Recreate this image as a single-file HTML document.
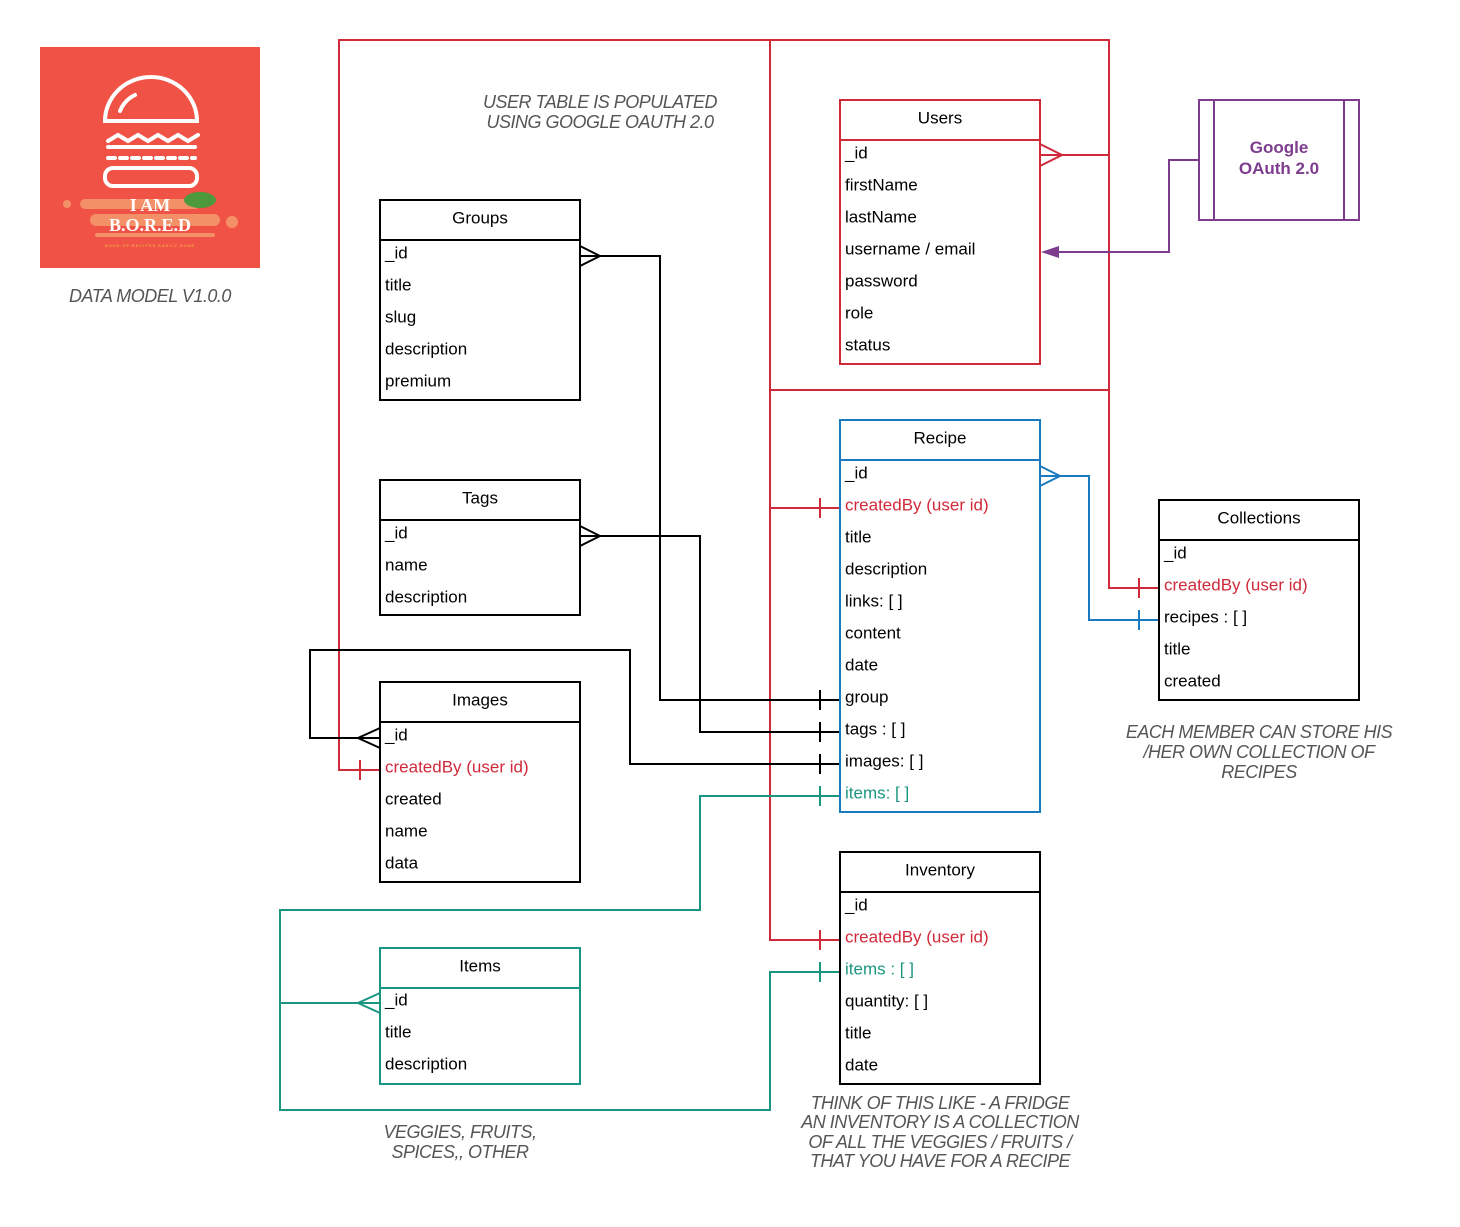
<!DOCTYPE html>
<html><head><meta charset="utf-8"><style>
body{margin:0;background:#fff;}
svg{display:block;font-family:"Liberation Sans",sans-serif;}
.t{font-size:17px;fill:#000;dominant-baseline:central;}
.h{font-size:17px;fill:#000;text-anchor:middle;dominant-baseline:central;}
.n{font-family:"Liberation Sans",sans-serif;font-style:italic;font-size:18px;fill:#555;text-anchor:middle;letter-spacing:-0.5px;}
</style></head><body>
<svg width="1460" height="1227" viewBox="0 0 1460 1227">
<!-- logo -->
<rect x="40" y="47" width="220" height="221" fill="#f05346"/>
<g fill="none" stroke="#fff" stroke-width="4" stroke-linecap="round">
<path d="M105,121 A46,44 0 0 1 197,121 Z"/>
<path d="M120,111 A30,30 0 0 1 135,95"/>
<path d="M108,141 l10,-6 10,6 10,-6 10,6 10,-6 10,6 10,-6 10,6 10,-6"/>
<line x1="108" y1="147" x2="195" y2="147"/>
<line x1="108" y1="158" x2="195" y2="158" stroke-dasharray="7,5"/>
<rect x="105" y="168" width="92" height="18" rx="8"/>
</g>
<g fill="#f5a070" opacity="0.8">
<rect x="80" y="199" width="120" height="10" rx="5"/><rect x="90" y="214" width="130" height="12" rx="6"/><rect x="95" y="233" width="120" height="4" rx="2"/>
<circle cx="67" cy="204" r="4"/><circle cx="232" cy="222" r="6"/></g>
<ellipse cx="200" cy="200" rx="16" ry="8" fill="#4c9a3c"/>
<text x="150" y="211" text-anchor="middle" font-family="Liberation Serif" font-weight="bold" font-size="18" fill="#fff">I AM</text>
<text x="150" y="231" text-anchor="middle" font-family="Liberation Serif" font-weight="bold" font-size="18" fill="#fff">B.O.R.E.D</text>
<text x="150" y="247" text-anchor="middle" font-size="4" fill="#f6c040" letter-spacing="1">BOOK.OF.RECIPES.EASILY.DONE</text>
<text class="n" x="150" y="302">DATA MODEL V1.0.0</text>
<text class="n" x="600" y="108">USER TABLE IS POPULATED</text>
<text class="n" x="600" y="128">USING GOOGLE OAUTH 2.0</text>
<text class="n" x="1259" y="738">EACH MEMBER CAN STORE HIS</text>
<text class="n" x="1259" y="758">/HER OWN COLLECTION OF</text>
<text class="n" x="1259" y="778">RECIPES</text>
<text class="n" x="460" y="1138">VEGGIES, FRUITS,</text>
<text class="n" x="460" y="1158">SPICES,, OTHER</text>
<text class="n" x="940" y="1109">THINK OF THIS LIKE - A FRIDGE</text>
<text class="n" x="940" y="1128">AN INVENTORY IS A COLLECTION</text>
<text class="n" x="940" y="1148">OF ALL THE VEGGIES / FRUITS /</text>
<text class="n" x="940" y="1167">THAT YOU HAVE FOR A RECIPE</text>

<!-- red connectors -->
<g fill="none" stroke="#d0293a" stroke-width="2">
<polyline points="380,770 339,770 339,40 1109,40 1109,588 1159,588"/>
<polyline points="770,40 770,940 840,940"/>
<line x1="770" y1="390" x2="1109" y2="390"/>
<line x1="770" y1="508" x2="840" y2="508"/>
<line x1="1040" y1="155" x2="1109" y2="155"/>
<polyline points="1040,144 1062,155 1040,166"/>
<line x1="360" y1="760" x2="360" y2="780"/>
<line x1="820" y1="498" x2="820" y2="518"/>
<line x1="820" y1="930" x2="820" y2="950"/>
<line x1="1139" y1="578" x2="1139" y2="598"/>
</g>
<!-- blue -->
<g fill="none" stroke="#1a7abf" stroke-width="2">
<polyline points="1040,476 1089,476 1089,620 1159,620"/>
<polyline points="1040,466 1060,476 1040,486"/>
<line x1="1139" y1="610" x2="1139" y2="630"/>
</g>
<!-- black -->
<g fill="none" stroke="#000" stroke-width="2">
<polyline points="580,256 660,256 660,700 840,700"/>
<polyline points="580,246 600,256 580,266"/>
<polyline points="580,536 700,536 700,732 840,732"/>
<polyline points="580,526 600,536 580,546"/>
<polyline points="380,738 310,738 310,650 630,650 630,764 840,764"/>
<polyline points="380,728 358,738 380,748"/>
<line x1="820" y1="690" x2="820" y2="710"/>
<line x1="820" y1="722" x2="820" y2="742"/>
<line x1="820" y1="754" x2="820" y2="774"/>
</g>
<!-- green -->
<g fill="none" stroke="#1a9680" stroke-width="2">
<polyline points="840,796 700,796 700,910 280,910 280,1110 770,1110 770,972 840,972"/>
<line x1="280" y1="1003" x2="380" y2="1003"/>
<polyline points="380,993 358,1003 380,1013"/>
<line x1="820" y1="786" x2="820" y2="806"/>
<line x1="820" y1="962" x2="820" y2="982"/>
</g>
<!-- purple -->
<g fill="none" stroke="#7d3c8e" stroke-width="2">
<rect x="1199" y="100" width="160" height="120"/>
<line x1="1214" y1="100" x2="1214" y2="220"/><line x1="1344" y1="100" x2="1344" y2="220"/>
<polyline points="1199,160 1169,160 1169,252 1058,252"/>
</g>
<polygon points="1041,252 1059,246 1059,258" fill="#7d3c8e"/>
<text x="1279" y="153" text-anchor="middle" font-size="17" font-weight="bold" fill="#7d3c8e">Google</text>
<text x="1279" y="174" text-anchor="middle" font-size="17" font-weight="bold" fill="#7d3c8e">OAuth 2.0</text>

<!-- tables -->
<g fill="#fff" stroke-width="2">
<rect x="840" y="100" width="200" height="264" stroke="#d0293a"/>
<rect x="380" y="200" width="200" height="200" stroke="#000"/>
<rect x="380" y="480" width="200" height="135" stroke="#000"/>
<rect x="380" y="682" width="200" height="200" stroke="#000"/>
<rect x="380" y="948" width="200" height="136" stroke="#1a9680"/>
<rect x="840" y="420" width="200" height="392" stroke="#1a7abf"/>
<rect x="840" y="852" width="200" height="232" stroke="#000"/>
<rect x="1159" y="500" width="200" height="200" stroke="#000"/>
</g>
<g stroke-width="2">
<line x1="840" y1="140" x2="1040" y2="140" stroke="#d0293a"/>
<line x1="380" y1="240" x2="580" y2="240" stroke="#000"/>
<line x1="380" y1="520" x2="580" y2="520" stroke="#000"/>
<line x1="380" y1="722" x2="580" y2="722" stroke="#000"/>
<line x1="380" y1="988" x2="580" y2="988" stroke="#1a9680"/>
<line x1="840" y1="460" x2="1040" y2="460" stroke="#1a7abf"/>
<line x1="840" y1="892" x2="1040" y2="892" stroke="#000"/>
<line x1="1159" y1="540" x2="1359" y2="540" stroke="#000"/>
</g>
<text class="h" x="940" y="118">Users</text>
<text class="t" x="845" y="153">_id</text><text class="t" x="845" y="185">firstName</text><text class="t" x="845" y="217">lastName</text><text class="t" x="845" y="249">username / email</text><text class="t" x="845" y="281">password</text><text class="t" x="845" y="313">role</text><text class="t" x="845" y="345">status</text>
<text class="h" x="480" y="218">Groups</text>
<text class="t" x="385" y="253">_id</text><text class="t" x="385" y="285">title</text><text class="t" x="385" y="317">slug</text><text class="t" x="385" y="349">description</text><text class="t" x="385" y="381">premium</text>
<text class="h" x="480" y="498">Tags</text>
<text class="t" x="385" y="533">_id</text><text class="t" x="385" y="565">name</text><text class="t" x="385" y="597">description</text>
<text class="h" x="480" y="700">Images</text>
<text class="t" x="385" y="735">_id</text><text class="t" x="385" y="767" style="fill:#d0293a">createdBy (user id)</text><text class="t" x="385" y="799">created</text><text class="t" x="385" y="831">name</text><text class="t" x="385" y="863">data</text>
<text class="h" x="480" y="966">Items</text>
<text class="t" x="385" y="1000">_id</text><text class="t" x="385" y="1032">title</text><text class="t" x="385" y="1064">description</text>
<text class="h" x="940" y="438">Recipe</text>
<text class="t" x="845" y="473">_id</text><text class="t" x="845" y="505" style="fill:#d0293a">createdBy (user id)</text><text class="t" x="845" y="537">title</text><text class="t" x="845" y="569">description</text><text class="t" x="845" y="601">links: [ ]</text><text class="t" x="845" y="633">content</text><text class="t" x="845" y="665">date</text><text class="t" x="845" y="697">group</text><text class="t" x="845" y="729">tags : [ ]</text><text class="t" x="845" y="761">images: [ ]</text><text class="t" x="845" y="793" style="fill:#1a9680">items: [ ]</text>
<text class="h" x="940" y="870">Inventory</text>
<text class="t" x="845" y="905">_id</text><text class="t" x="845" y="937" style="fill:#d0293a">createdBy (user id)</text><text class="t" x="845" y="969" style="fill:#1a9680">items : [ ]</text><text class="t" x="845" y="1001">quantity: [ ]</text><text class="t" x="845" y="1033">title</text><text class="t" x="845" y="1065">date</text>
<text class="h" x="1259" y="518">Collections</text>
<text class="t" x="1164" y="553">_id</text><text class="t" x="1164" y="585" style="fill:#d0293a">createdBy (user id)</text><text class="t" x="1164" y="617">recipes : [ ]</text><text class="t" x="1164" y="649">title</text><text class="t" x="1164" y="681">created</text>
</svg>
</body></html>
